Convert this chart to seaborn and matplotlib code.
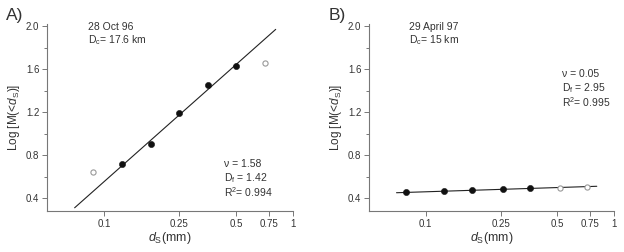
import numpy as np
import pandas as pd
import seaborn as sns
import matplotlib.pyplot as plt
from matplotlib.ticker import FixedLocator, NullLocator, FixedFormatter

sns.set_style('ticks')
plt.rcParams['font.family'] = ['Liberation Sans', 'DejaVu Sans']
plt.rcParams['mathtext.fontset'] = 'custom'
plt.rcParams['mathtext.rm'] = 'Liberation Sans'
plt.rcParams['mathtext.it'] = 'Liberation Sans:italic'

# panel A, 28 Oct 96
a_fill_x = [0.125, 0.177, 0.25, 0.354, 0.5]
a_fill_y = [0.716, 0.90, 1.19, 1.45, 1.63]
a_open_x = [0.088, 0.707]
a_open_y = [0.645, 1.66]
a_line_x = [0.07, 0.81]
a_line_y = [0.31, 1.97]

# panel B, 29 April 97
b_fill_x = [0.079, 0.125, 0.177, 0.257, 0.36]
b_fill_y = [0.459, 0.465, 0.474, 0.484, 0.49]
b_open_x = [0.516, 0.72]
b_open_y = [0.496, 0.50]
b_line_x = [0.07, 0.81]
b_line_y = [0.45, 0.51]

x_ticks = [0.1, 0.25, 0.5, 0.75, 1]
x_labels = ['0.1', '0.25', '0.5', '0.75', '1']
y_ticks = [0.4, 0.8, 1.2, 1.6, 2.0]
y_minor = [0.6, 1.0, 1.4, 1.8]

txt = '#333333'
ax_col = '#777777'

fig = plt.figure(figsize=(6.24, 2.52), dpi=100)
ax1 = fig.add_axes([47/624, 41/252, 246/624, 187/252])
ax2 = fig.add_axes([369/624, 41/252, 245/624, 187/252])

panels = [
    (ax1, a_fill_x, a_fill_y, a_open_x, a_open_y, a_line_x, a_line_y,
     'A)', '28 Oct 96', '17.6 km', ['1.58', '1.42', '0.994'], (0.72, 0.25)),
    (ax2, b_fill_x, b_fill_y, b_open_x, b_open_y, b_line_x, b_line_y,
     'B)', '29 April 97', '15 km', ['0.05', '2.95', '0.995'], (0.787, 0.73)),
]

for ax, fx, fy, ox, oy, lx, ly, tag, date, dc, stats, spos in panels:
    line_df = pd.DataFrame({'x': lx, 'y': ly})
    sns.lineplot(data=line_df, x='x', y='y', ax=ax, color='#222222', lw=0.8)
    sns.scatterplot(x=fx, y=fy, ax=ax, color='#111111', s=20, edgecolor='#111111', zorder=3)
    sns.scatterplot(x=ox, y=oy, ax=ax, facecolor='white', s=14, edgecolor='#999999',
                    linewidth=0.8, zorder=3)
    ax.set_xscale('log')
    ax.set_xlim(0.05, 1.0)
    ax.set_ylim(0.28, 2.02)
    ax.xaxis.set_major_locator(FixedLocator(x_ticks))
    ax.xaxis.set_major_formatter(FixedFormatter(x_labels))
    ax.xaxis.set_minor_locator(NullLocator())
    ax.set_yticks(y_ticks)
    ax.set_yticklabels(['%.1f' % v for v in y_ticks])
    ax.yaxis.set_minor_locator(FixedLocator(y_minor))
    ax.tick_params(which='major', length=3.5, width=0.7, color=ax_col, labelsize=7,
                   labelcolor=txt, pad=2)
    ax.tick_params(which='minor', length=2, width=0.7, color=ax_col)
    sns.despine(ax=ax)
    for s in ['left', 'bottom']:
        ax.spines[s].set_color(ax_col)
        ax.spines[s].set_linewidth(0.8)
    ax.set_xlabel(r'$d_\mathrm{S}$(mm)', fontsize=9, color=txt, labelpad=1)
    ax.set_ylabel(r'Log [M(<$d_\mathrm{S}$)]', fontsize=8.5, color=txt, labelpad=3)
    ax.text(-0.165, 1.005, tag, transform=ax.transAxes, fontsize=12.5, color=txt,
            va='bottom', ha='left')
    ax.text(0.165, 0.985, date, transform=ax.transAxes, fontsize=7.5, color=txt, va='center')
    ax.text(0.165, 0.915, r'D$_\mathrm{c}$= ' + dc, transform=ax.transAxes, fontsize=7.5,
            color=txt, va='center')
    sx, sy = spos
    ax.text(sx, sy, 'ν = ' + stats[0], transform=ax.transAxes, fontsize=7.5,
            color=txt, va='center')
    ax.text(sx, sy - 0.075, r'D$_\mathrm{f}$ = ' + stats[1], transform=ax.transAxes,
            fontsize=7.5, color=txt, va='center')
    ax.text(sx, sy - 0.15, r'R$^2$= ' + stats[2], transform=ax.transAxes, fontsize=7.5,
            color=txt, va='center')

fig.savefig('out.png', dpi=100)
